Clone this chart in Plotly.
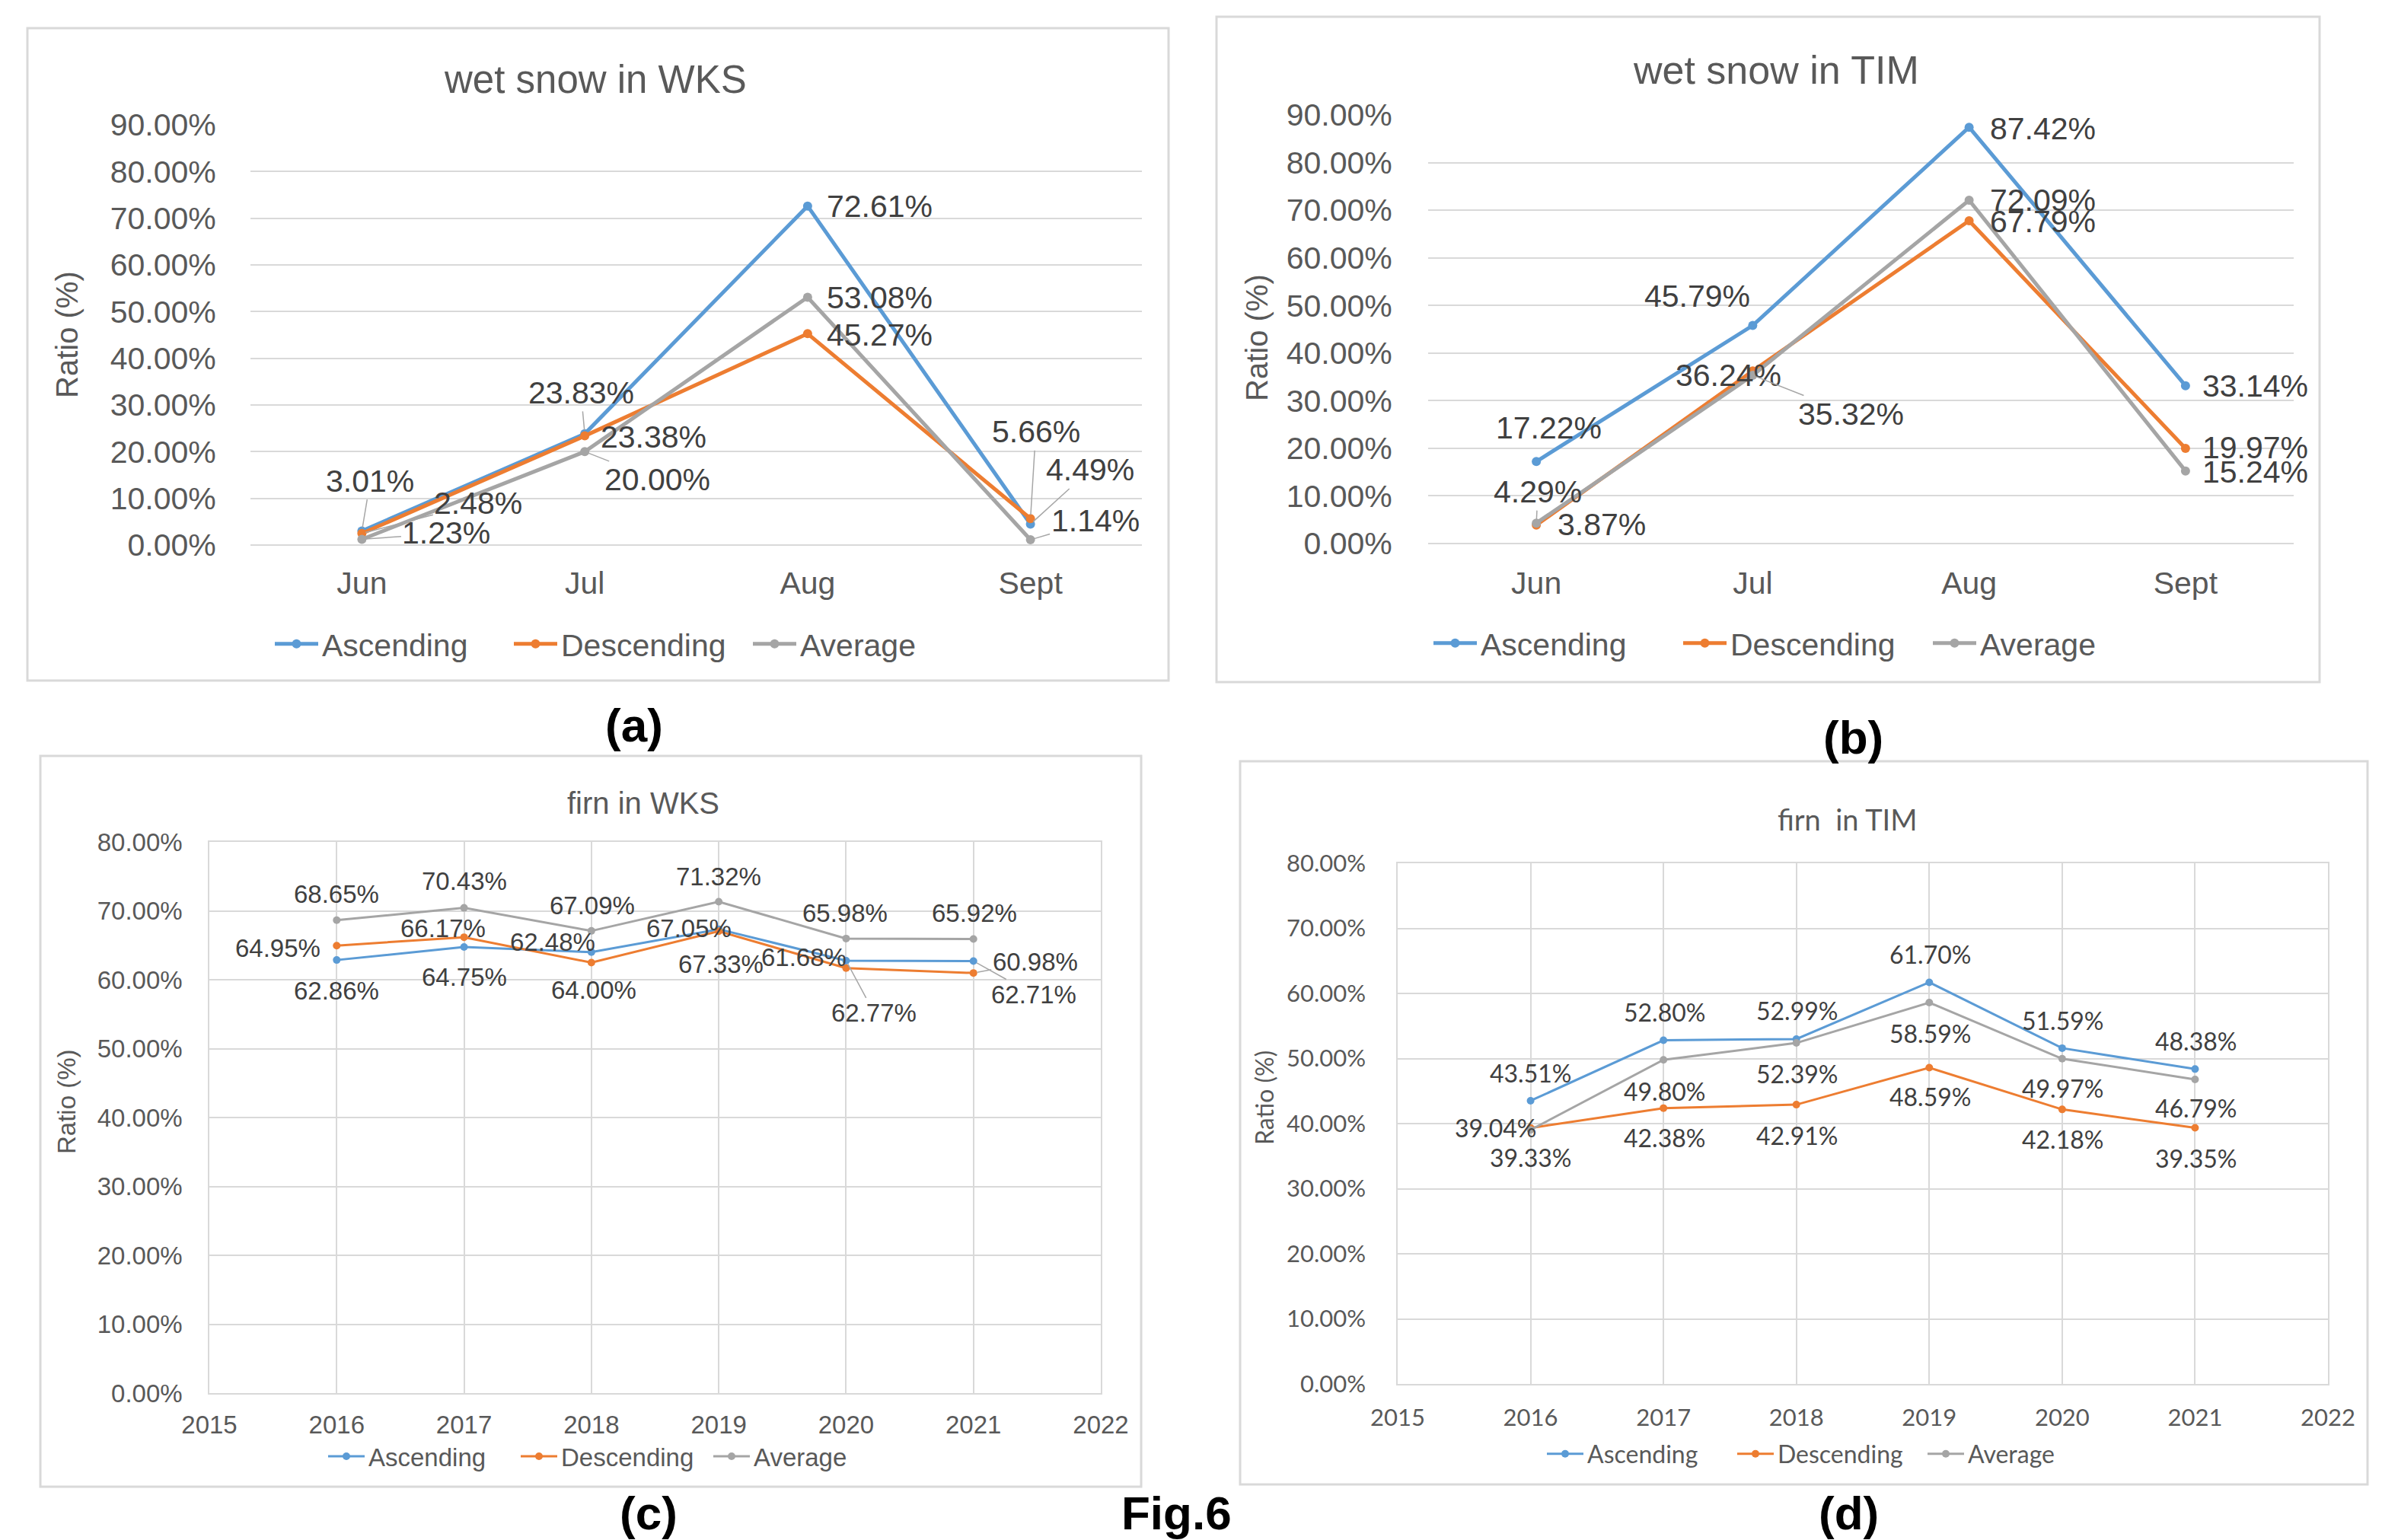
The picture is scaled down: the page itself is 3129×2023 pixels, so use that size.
import plotly.graph_objects as go

W, H = 3129, 2023

# ---------------- data ----------------
months = ["Jun", "Jul", "Aug", "Sept"]
years = [2016, 2017, 2018, 2019, 2020, 2021]
series_names = ["Ascending", "Descending", "Average"]

wks_wet_asc = [3.01, 23.83, 72.61, 4.49]
wks_wet_desc = [2.48, 23.38, 45.27, 5.66]
wks_wet_avg = [1.23, 20.00, 53.08, 1.14]

tim_wet_asc = [17.22, 45.79, 87.42, 33.14]
tim_wet_desc = [3.87, 36.24, 67.79, 19.97]
tim_wet_avg = [4.29, 35.32, 72.09, 15.24]

wks_firn_asc = [62.86, 64.75, 64.00, 67.33, 62.77, 62.71]
wks_firn_desc = [64.95, 66.17, 62.48, 67.05, 61.68, 60.98]
wks_firn_avg = [68.65, 70.43, 67.09, 71.32, 65.98, 65.92]

tim_firn_asc = [43.51, 52.80, 52.99, 61.70, 51.59, 48.38]
tim_firn_desc = [39.33, 42.38, 42.91, 48.59, 42.18, 39.35]
tim_firn_avg = [39.04, 49.80, 52.39, 58.59, 49.97, 46.79]

# ---------------- styles ----------------
COLORS = ["#5B9BD5", "#ED7D31", "#A5A5A5"]
ARIAL = "Liberation Sans, Arial, sans-serif"
CALIBRI = "Lato, Carlito, Calibri, sans-serif"
TXT = "#595959"
LBL = "#404040"
GRID = "#d9d9d9"


def fx(px):
    return px / W


def fy(py):
    return 1 - py / H


# label offsets (dx, dy in px, leader line?) per series, per point
off_a = [
    [(11, -66, True), (-5, -54, True), (95, 0, False), (78, -71, True)],
    [(153, -40, True), (90, 1, False), (95, 2, False), (7, -114, True)],
    [(111, -8, True), (95, 37, True), (95, 1, False), (85, -25, True)],
]
off_b = [
    [(16, -44, False), (-73, -39, False), (97, 2, False), (92, 0, False)],
    [(86, -1, False), (-32, 6, False), (97, 1, False), (92, -1, False)],
    [(2, -41, True), (129, 51, True), (97, 0, False), (92, 1, False)],
]
off_c = [
    [(0, 40, False), (0, 39, False), (3, 50, False), (3, 46, False), (37, 69, True), (79, 44, True)],
    [(-77, 3, False), (-28, -12, False), (-51, -27, False), (-39, -4, False), (-55, -14, False), (81, -15, True)],
    [(0, -34, False), (0, -35, False), (1, -33, False), (0, -33, False), (-1, -33, False), (1, -34, False)],
]
off_d = [
    [(0, -36, False), (1, -37, False), (1, -37, False), (1, -37, False), (1, -36, False), (1, -37, False)],
    [(0, 39, False), (1, 39, False), (1, 40, False), (1, 38, False), (1, 39, False), (1, 40, False)],
    [(-46, -3, False), (1, 41, False), (1, 40, False), (1, 40, False), (1, 39, False), (1, 38, False)],
]

panels = [
    dict(ax="x", ay="y", xs=months, data=[wks_wet_asc, wks_wet_desc, wks_wet_avg], off=off_a,
         legend="legend", lw=5, ms=12, lsize=41, font=ARIAL),
    dict(ax="x2", ay="y2", xs=months, data=[tim_wet_asc, tim_wet_desc, tim_wet_avg], off=off_b,
         legend="legend2", lw=5, ms=12, lsize=41, font=ARIAL),
    dict(ax="x3", ay="y3", xs=years, data=[wks_firn_asc, wks_firn_desc, wks_firn_avg], off=off_c,
         legend="legend3", lw=3, ms=10, lsize=33, font=ARIAL),
    dict(ax="x4", ay="y4", xs=years, data=[tim_firn_asc, tim_firn_desc, tim_firn_avg], off=off_d,
         legend="legend4", lw=3, ms=10, lsize=32, font=CALIBRI),
]

fig = go.Figure()
annotations = []

for p in panels:
    for i, (name, vals) in enumerate(zip(series_names, p["data"])):
        fig.add_trace(go.Scatter(
            x=p["xs"], y=vals, name=name, mode="lines+markers",
            line=dict(color=COLORS[i], width=p["lw"]),
            marker=dict(color=COLORS[i], size=p["ms"]),
            xaxis=p["ax"], yaxis=p["ay"], legend=p["legend"], cliponaxis=False,
            hoverinfo="skip",
        ))
        for xv, yv, (dx, dy, lead) in zip(p["xs"], vals, p["off"][i]):
            a = dict(x=xv, y=yv, xref=p["ax"], yref=p["ay"], text=f"{yv:.2f}%",
                     font=dict(family=p["font"], size=p["lsize"], color=LBL))
            if lead:
                a.update(showarrow=True, ax=dx, ay=dy, arrowhead=0, arrowwidth=1.5,
                         arrowcolor="#a6a6a6", standoff=5)
            else:
                a.update(showarrow=False, xshift=dx, yshift=-dy)
            annotations.append(a)

# ---------------- axes ----------------
def cat_x(domain, size, ticklen):
    return dict(domain=domain, type="category", range=[-0.5, 3.5], showgrid=False,
                showline=False, zeroline=False, ticks="outside", ticklen=ticklen, automargin=False,
                tickcolor="rgba(0,0,0,0)", tickfont=dict(family=ARIAL, size=size, color=TXT))


def pct_y(domain, top, size, font, ticklen, gw):
    return dict(domain=domain, range=[0, top], dtick=10, tickformat=".2f", ticksuffix="%",
                showgrid=True, gridcolor=GRID, gridwidth=gw, zeroline=True, zerolinecolor=GRID,
                zerolinewidth=gw, showline=False, ticks="outside", ticklen=ticklen, automargin=False,
                tickcolor="rgba(0,0,0,0)", tickfont=dict(family=font, size=size, color=TXT))


def year_x(domain, size, font, ticklen):
    return dict(domain=domain, range=[2015, 2022], dtick=1, tick0=2015, tickformat="d",
                showgrid=True, gridcolor=GRID, gridwidth=1.5, zeroline=False,
                showline=True, mirror=True, linecolor=GRID, linewidth=1.5, automargin=False,
                ticks="outside", ticklen=ticklen, tickcolor="rgba(0,0,0,0)",
                tickfont=dict(family=font, size=size, color=TXT))


ya3 = pct_y([fy(1830), fy(1106)], 80, 33, ARIAL, 27, 1.5)
ya3.update(showline=True, mirror=True, linecolor=GRID, linewidth=1.5, zeroline=False)
ya4 = pct_y([fy(1818), fy(1134)], 80, 31, CALIBRI, 34, 1.5)
ya4.update(showline=True, mirror=True, linecolor=GRID, linewidth=1.5, zeroline=False)

layout_axes = dict(
    xaxis=cat_x([fx(329), fx(1500)], 41, 14),
    yaxis=pct_y([fy(716), fy(164)], 90, 41, ARIAL, 36, 2),
    xaxis2=cat_x([fx(1876), fx(3013)], 41, 16),
    yaxis2=pct_y([fy(714), fy(151)], 90, 41, ARIAL, 38, 2),
    xaxis3=year_x([fx(275), fx(1446)], 33, ARIAL, 12),
    yaxis3=ya3,
    xaxis4=year_x([fx(1836), fx(3058)], 31, CALIBRI, 16),
    yaxis4=ya4,
)
for k in ["", "2", "3", "4"]:
    layout_axes["xaxis" + k]["anchor"] = "y" + k
    layout_axes["yaxis" + k]["anchor"] = "x" + k

# ---------------- titles / texts ----------------
def txt(text, px, py, size, family=ARIAL, color=TXT, angle=0, bold=False, yanchor="middle"):
    t = f"<b>{text}</b>" if bold else text
    return dict(text=t, x=fx(px), y=fy(py), xref="paper", yref="paper", showarrow=False,
                xanchor="center", yanchor=yanchor, textangle=angle, borderpad=0,
                font=dict(family=family, size=size, color=color))


annotations += [
    txt("wet snow in WKS", 782, 104, 51),
    txt("wet snow in TIM", 2333, 92, 52),
    txt("firn in WKS", 845, 1055, 40),
    txt("firn&nbsp;&nbsp;in TIM", 2427, 1076, 38, family=CALIBRI),
    txt("Ratio (%)", 88, 440, 40, angle=-90),
    txt("Ratio (%)", 1651, 444, 40, angle=-90),
    txt("Ratio (%)", 87, 1447, 33, angle=-90),
    txt("Ratio (%)", 1660, 1442, 32, family=CALIBRI, angle=-90),
    txt("(a)", 833, 952, 62, color="#000000", bold=True),
    txt("(b)", 2434, 968, 62, color="#000000", bold=True),
    txt("(c)", 852, 2023, 62, color="#000000", bold=True, yanchor="bottom"),
    txt("(d)", 2428, 2023, 62, color="#000000", bold=True, yanchor="bottom"),
    txt("Fig.6", 1545, 2023, 62, color="#000000", bold=True, yanchor="bottom"),
]

# chart area borders
shapes = []
for x0, y0, x1, y1 in [(36, 37, 1535, 894), (1598, 22, 3047, 896), (53, 993, 1499, 1953), (1629, 1000, 3110, 1950)]:
    shapes.append(dict(type="rect", xref="paper", yref="paper", x0=fx(x0), y0=fy(y0), x1=fx(x1), y1=fy(y1),
                       line=dict(color=GRID, width=3), fillcolor="rgba(0,0,0,0)", layer="below"))


def leg(lx, cy, size, family, iw, ew):
    return dict(orientation="h", x=fx(lx), y=fy(cy), xanchor="left", yanchor="middle",
                font=dict(family=family, size=size, color=TXT), bgcolor="rgba(0,0,0,0)",
                itemwidth=iw, entrywidth=ew, entrywidthmode="pixels",
                itemclick=False, itemdoubleclick=False, traceorder="normal")


fig.update_layout(
    width=W, height=H, margin=dict(l=0, r=0, t=0, b=0, autoexpand=False),
    paper_bgcolor="white", plot_bgcolor="white",
    showlegend=True,
    legend=leg(356, 846, 41, ARIAL, 57, 242),
    legend2=leg(1878, 845, 41, ARIAL, 57, 256),
    legend3=leg(426, 1913, 33, ARIAL, 48, 190),
    legend4=leg(2027, 1910, 32, CALIBRI, 48, 187),
    annotations=annotations,
    shapes=shapes,
    **layout_axes,
)

fig.write_html("out.html")
